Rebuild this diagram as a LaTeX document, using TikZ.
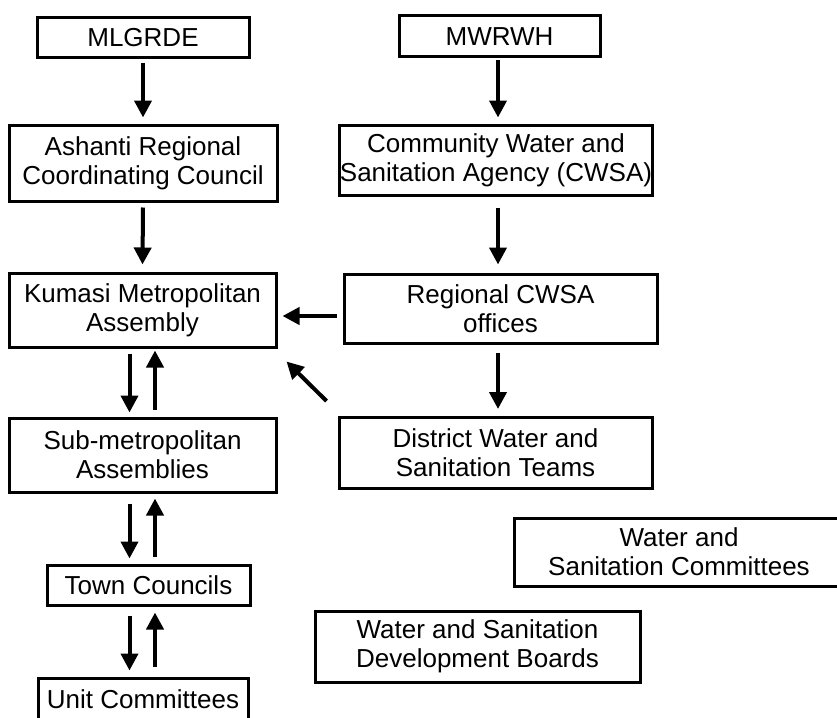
\documentclass[tikz,border=0pt]{standalone}
\usepackage{fontspec}
\setmainfont{Liberation Sans}
\usetikzlibrary{arrows.meta,calc}
\begin{document}
\begin{tikzpicture}[x=1pt,y=-1pt,
  box/.style={draw=black,line width=3pt,inner sep=0pt,align=center,
    font=\fontsize{26}{29}\selectfont},
  arr/.style={line width=4pt,-{Triangle[width=17pt,length=17pt]}}]
\useasboundingbox (0,0) rectangle (837,717);
\clip (0,0) rectangle (837,717);
\coordinate (cl) at (129.5,0);
\coordinate (cr) at (155,0);
\coordinate (cm) at (498,0);
% left column
\node[box,minimum width=212pt,minimum height=40pt] (mlg) at (143,38) {MLGRDE};
\node[box,minimum width=268pt,minimum height=76pt] (ash) at (143,163) {Ashanti Regional\\Coordinating Council};
\node[box,minimum width=267pt,minimum height=74pt] (kum) at (142.5,310) {Kumasi Metropolitan\\Assembly};
\node[box,minimum width=267pt,minimum height=74pt] (sub) at (142.5,455) {Sub-metropolitan\\Assemblies};
\node[box,minimum width=203pt,minimum height=40pt] (town) at (148.5,585) {Town Councils};
\node[box,minimum width=210pt,minimum height=42pt] (unit) at (143,699) {Unit Committees};
% right column
\node[box,minimum width=201pt,minimum height=41pt] (mwr) at (499.5,36.5) {MWRWH};
\node[box,minimum width=312pt,minimum height=70pt] (cwsa) at (496,160) {Community Water and\\Sanitation Agency (CWSA)};
\node[box,minimum width=313pt,minimum height=69pt] (reg) at (500.5,308.5) {Regional CWSA\\offices};
\node[box,minimum width=313pt,minimum height=71pt] (dist) at (495.5,453) {District Water and\\Sanitation Teams};
\node[box,minimum width=330pt,minimum height=68pt] (wsc) at (679,552) {Water and\\Sanitation Committees};
\node[box,minimum width=325pt,minimum height=71pt] (wsdb) at (477.5,646.5) {Water and Sanitation\\Development Boards};
% arrows
\draw[arr] ($(mlg.south)+(0,3)$) -- ($(ash.north)+(0,-6)$);
\draw[arr] ($(ash.south)+(0,5)$) -- ($(kum.north)+(0,-7)$);
\draw[arr] ($(kum.south -| cl)+(0,5)$) -- ($(sub.north -| cl)+(0,-4)$);
\draw[arr] ($(sub.north -| cr)+(0,-7)$) -- ($(kum.south -| cr)+(0,2)$);
\draw[arr] ($(sub.south -| cl)+(0,10)$) -- ($(town.north -| cl)+(0,-5)$);
\draw[arr] ($(town.north -| cr)+(0,-7)$) -- ($(sub.south -| cr)+(0,5)$);
\draw[arr] ($(town.south -| cl)+(0,9)$) -- ($(unit.north -| cl)+(0,-6)$);
\draw[arr] ($(unit.north -| cr)+(0,-10)$) -- ($(town.south -| cr)+(0,6)$);
\draw[arr] ($(mwr.south -| cm)+(0,2)$) -- ($(cwsa.north -| cm)+(0,-6)$);
\draw[arr] ($(cwsa.south -| cm)+(0,11)$) -- ($(reg.north -| cm)+(0,-8)$);
\draw[arr] ($(reg.south -| cm)+(0,8)$) -- ($(dist.north -| cm)+(0,-7)$);
\draw[arr] ($(reg.west)+(-6,7.5)$) -- ($(kum.east)+(5,6)$);
\draw[arr] ($(dist.north west)+(-11,-15)$) -- ($(kum.south east)+(9,13)$);
\end{tikzpicture}
\end{document}
